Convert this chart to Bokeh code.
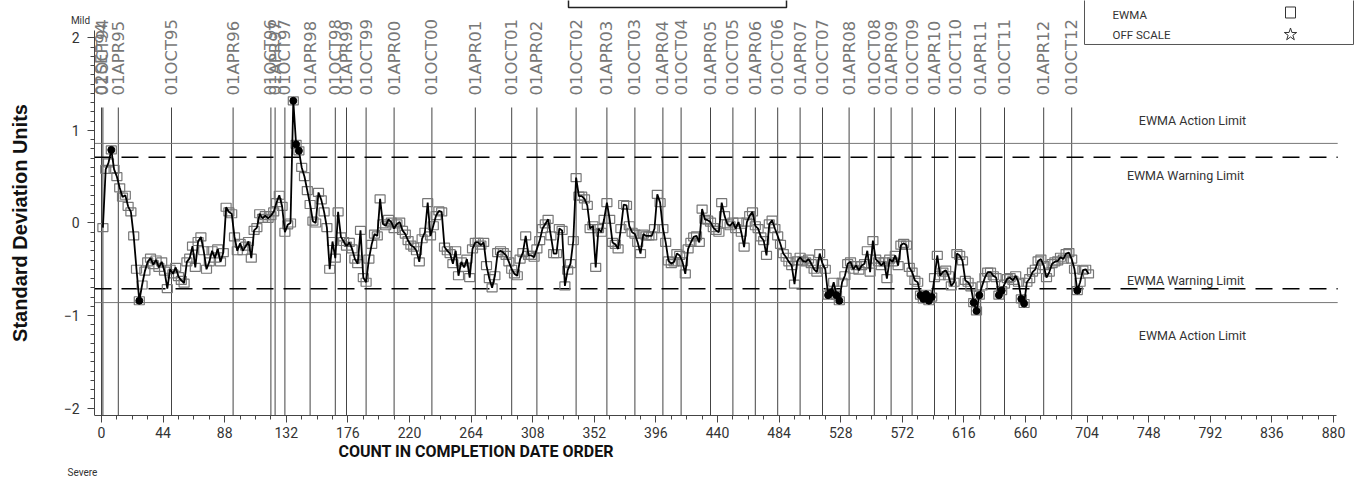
import numpy as np
from bokeh.plotting import figure
from bokeh.models import ColumnDataSource, FixedTicker, Range1d, Title
from bokeh.core.properties import value
from bokeh.embed import file_html
from bokeh.resources import INLINE

# ---------------- data ----------------
count = list(range(1, 706, 2))
ewma = [
    -0.05, 0.58, 0.65, 0.79, 0.58, 0.50, 0.38, 0.28, 0.30, 0.18,
    0.12, -0.14, -0.50, -0.84, -0.67, -0.52, -0.42, -0.38, -0.45, -0.40,
    -0.48, -0.42, -0.52, -0.71, -0.50, -0.55, -0.48, -0.58, -0.62, -0.65,
    -0.42, -0.38, -0.25, -0.48, -0.20, -0.15, -0.30, -0.50, -0.42, -0.30,
    -0.38, -0.28, -0.42, -0.32, 0.17, 0.12, 0.10, -0.15, -0.30, -0.22,
    -0.30, -0.25, -0.20, -0.38, -0.08, -0.05, 0.10, 0.05, 0.08, 0.05,
    0.08, 0.12, 0.22, 0.30, 0.18, -0.10, -0.02, 0.00, 1.32, 0.85,
    0.78, 0.60, 0.50, 0.35, 0.20, 0.02, 0.00, 0.33, 0.25, 0.12,
    -0.05, -0.50, -0.20, -0.38, 0.12, -0.15, -0.20, -0.25,
    -0.21, -0.28, -0.39, -0.44, -0.08, -0.59, -0.64, -0.39, -0.23, -0.12,
    -0.14, 0.26, -0.01, -0.03, 0.04, 0.01, -0.06, -0.01, 0.01, -0.08,
    -0.12, -0.19, -0.24, -0.26, -0.30, -0.42, -0.17, -0.10, 0.22, -0.14,
    -0.03, 0.08, 0.13, 0.12, -0.26, -0.30, -0.33, -0.44, -0.30, -0.57,
    -0.42, -0.48, -0.39, -0.59, -0.28, -0.21, -0.21, -0.24, -0.21, -0.46,
    -0.60, -0.70, -0.57, -0.32, -0.30, -0.32, -0.35, -0.42, -0.50, -0.55,
    -0.57, -0.39, -0.32, -0.14, -0.35, -0.35, -0.37, -0.28, -0.19, -0.06,
    -0.01, 0.04, -0.14, -0.33, -0.33, -0.06, -0.08, -0.68, -0.51, -0.44,
    -0.19, 0.49, 0.29, 0.29, 0.26, 0.19, -0.06,
    -0.03, -0.48, -0.06, -0.10, 0.04, 0.22, 0.04, -0.21, -0.23, -0.28,
    -0.06, 0.20, 0.19, -0.03, -0.10, -0.12, -0.21, -0.33, -0.12, -0.14,
    -0.14, -0.14, -0.06, 0.31, 0.22, -0.06, -0.21, -0.41, -0.44, -0.42,
    -0.33, -0.35, -0.42, -0.55, -0.28, -0.21, -0.15, -0.14, -0.21, 0.15,
    0.04, 0.03, 0.01, -0.05, -0.08, -0.10, 0.22, 0.08, -0.01, -0.03,
    0.01, -0.06, 0.01, -0.10, -0.26, 0.01, 0.08, 0.12, -0.03, -0.06,
    -0.15, -0.19, -0.35, -0.01, 0.03, -0.06, -0.14, -0.23, -0.33, -0.37,
    -0.42, -0.46, -0.66, -0.41, -0.37, -0.41, -0.42, -0.39, -0.44, -0.50,
    -0.53, -0.33, -0.44, -0.50, -0.78, -0.75, -0.64,
    -0.78, -0.84, -0.64, -0.57, -0.44, -0.42, -0.50, -0.46, -0.51, -0.46,
    -0.44, -0.30, -0.53, -0.19, -0.39, -0.42, -0.46, -0.42, -0.60, -0.39,
    -0.42, -0.35, -0.46, -0.24, -0.22, -0.24, -0.48, -0.53, -0.62, -0.64,
    -0.78, -0.82, -0.77, -0.84, -0.80, -0.59, -0.35, -0.57, -0.53, -0.51,
    -0.57, -0.68, -0.64, -0.33, -0.35, -0.41, -0.62, -0.64, -0.69, -0.86,
    -0.95, -0.78, -0.68, -0.59, -0.53, -0.53, -0.57, -0.59, -0.78, -0.73,
    -0.66, -0.60, -0.59, -0.62, -0.57, -0.64, -0.82, -0.87, -0.64, -0.60,
    -0.53, -0.50, -0.41, -0.39, -0.46, -0.59, -0.53, -0.44, -0.42, -0.41,
    -0.37, -0.39, -0.33, -0.32, -0.39, -0.50, -0.73, -0.64, -0.51, -0.50,
    -0.55,
]

date_labels = ["02SEP94", "01OCT94", "01APR95", "01OCT95", "01APR96", "01OCT96",
               "01APR97", "01OCT97", "01APR98", "01OCT98", "01APR99", "01OCT99",
               "01APR00", "01OCT00", "01APR01", "01OCT01", "01APR02", "01OCT02",
               "01APR03", "01OCT03", "01APR04", "01OCT04", "01APR05", "01OCT05",
               "01APR06", "01OCT06", "01APR07", "01OCT07", "01APR08", "01OCT08",
               "01APR09", "01OCT09", "01APR10", "01OCT10", "01APR11", "01OCT11",
               "01APR12", "01OCT12"]
date_counts = [0, 1, 12, 50, 94, 121, 124, 131, 149, 167, 175, 189, 209, 236, 267,
               293, 311, 339, 361, 381, 401, 414, 435, 451, 467, 483, 499, 515,
               534, 552, 564, 579, 595, 610, 628, 645, 673, 693]

x_ticks = list(range(0, 881, 44))
x_minor = list(range(0, 881, 11))
y_ticks = [-2, -1, 0, 1, 2]
y_minor = [round(v * 0.1, 1) for v in range(-20, 21)]

action_limit = 0.86
warning_limit = 0.71

# ---------------- layout helpers (pixel -> data, for annotations) ----------------
AXIS_PX, X0, SX = 94, -5.0, 1.40          # y axis drawn at pixel 94 == count -5
FRAME_W, FRAME_H = 1358, 415
XS = X0 - AXIS_PX / SX                    # data value at the left canvas edge
XE = XS + FRAME_W / SX
Y_ZERO_PX, SY = 222.5, 92.55
Y0 = -2.08
Y1 = Y0 + FRAME_H / SY


def dx(px):
    return XS + px / SX


def dy(py):
    return (Y_ZERO_PX - py) / SY


FONT = "Roboto"

p = figure(frame_width=FRAME_W, frame_height=FRAME_H,
           x_range=Range1d(XS, XE), y_range=Range1d(Y0, Y1),
           min_border_left=0, min_border_right=0, min_border_top=0,
           min_border_bottom=70, output_backend="svg", toolbar_location=None,
           outline_line_color=None, background_fill_color="white")
p.grid.visible = False

# axes
p.yaxis.fixed_location = X0
p.xaxis.bounds = (X0, 882)
p.yaxis.bounds = (Y0, -Y0)
p.xaxis.ticker = FixedTicker(ticks=x_ticks, minor_ticks=x_minor)
p.yaxis.ticker = FixedTicker(ticks=y_ticks, minor_ticks=y_minor)
for ax in (p.xaxis, p.yaxis):
    ax.axis_line_color = "#444"
    ax.major_tick_line_color = "#444"
    ax.minor_tick_line_color = "#444"
    ax.major_tick_out = 7
    ax.major_tick_in = 0
    ax.minor_tick_out = 4
    ax.minor_tick_in = 0
    ax.major_label_text_font = FONT
    ax.major_label_text_font_size = "14px"
    ax.major_label_text_color = "#333"
p.xaxis.major_label_standoff = 4
p.yaxis.major_label_standoff = 8
p.yaxis.axis_label = "Standard Deviation Units"
p.yaxis.axis_label_text_font = "Liberation Sans"
p.yaxis.axis_label_text_font_style = "bold"
p.yaxis.axis_label_text_font_size = "20px"
p.yaxis.axis_label_text_color = "#111"
p.yaxis.axis_label_standoff = 30

# x-axis title (offset to the left, as in the reference) and the cut "Severe" note
p.add_layout(Title(text="COUNT IN COMPLETION DATE ORDER", align="left", offset=338,
                   text_font=FONT, text_font_style="bold", text_font_size="16px",
                   text_color="#111", standoff=0, vertical_align="middle"), "below")
p.add_layout(Title(text="Severe", align="left", offset=67,
                   text_font=FONT, text_font_style="normal", text_font_size="10px",
                   text_color="#333", standoff=9, vertical_align="middle"), "below")

# "Mild" note at the top of the y scale
p.text(x=[dx(80)], y=[dy(20)], text=["Mild"], text_align="center", text_baseline="middle",
       text_font=value(FONT), text_font_size="10px", text_color="#333")

# date reference lines and labels
dsrc = ColumnDataSource(dict(x=date_counts, lab=date_labels))
p.segment(x0="x", x1="x", y0=Y0, y1=dy(107), source=dsrc, line_color="#444", line_width=1)
p.text(x="x", y=dy(95), text="lab", source=dsrc, angle=np.pi / 2,
       text_align="left", text_baseline="middle", text_font=value("DejaVu Sans"),
       text_font_size="16.5px", text_color="#777")

# limit lines
p.segment(x0=[X0, X0], x1=[883, 883], y0=[action_limit, -action_limit],
          y1=[action_limit, -action_limit], line_color="#777", line_width=1)
p.segment(x0=[X0, X0], x1=[883, 883], y0=[warning_limit, -warning_limit],
          y1=[warning_limit, -warning_limit], line_color="black", line_width=1.5,
          line_dash="17 10")
lim_txt = ColumnDataSource(dict(
    x=[dx(1192), dx(1185), dx(1185), dx(1192)],
    y=[dy(120), dy(175), dy(280), dy(335)],
    t=["EWMA Action Limit", "EWMA Warning Limit", "EWMA Warning Limit", "EWMA Action Limit"]))
p.text(x="x", y="y", text="t", source=lim_txt, text_align="center", text_baseline="middle",
       text_font=value(FONT), text_font_size="12.5px", text_color="#333")

# EWMA series
src = ColumnDataSource(dict(x=count, y=ewma))
p.rect(x="x", y="y", width=10, height=8, width_units="screen", height_units="screen",
       source=src, fill_color=None, line_color="#777", line_width=1.2)
p.line(x="x", y="y", source=src, line_color="black", line_width=1.8)
out_x = [c for c, v in zip(count, ewma) if abs(v) > warning_limit]
out_y = [v for v in ewma if abs(v) > warning_limit]
p.scatter(x=out_x, y=out_y, size=7, marker="circle", fill_color="black", line_color="black")

# title box (cut at top) and legend box
p.quad(left=dx(568), right=dx(786), bottom=dy(7), top=dy(-20), fill_color=None,
       line_color="#222", line_width=1.5)
p.quad(left=dx(1084), right=dx(1353), bottom=dy(44), top=dy(-20), fill_color="white",
       line_color="#555", line_width=1)
leg_txt = ColumnDataSource(dict(x=[dx(1112), dx(1112)], y=[dy(15), dy(35)], t=["EWMA", "OFF SCALE"]))
p.text(x="x", y="y", text="t", source=leg_txt, text_align="left", text_baseline="middle",
       text_font=value(FONT), text_font_size="11.5px", text_color="#333")
p.rect(x=[dx(1290)], y=[dy(12)], width=10, height=11, width_units="screen", height_units="screen",
       fill_color=None, line_color="#333")
p.scatter(x=[dx(1290)], y=[dy(34)], marker="star", size=13, fill_color=None, line_color="#333")

open("out.html", "w").write(file_html(p, INLINE))
